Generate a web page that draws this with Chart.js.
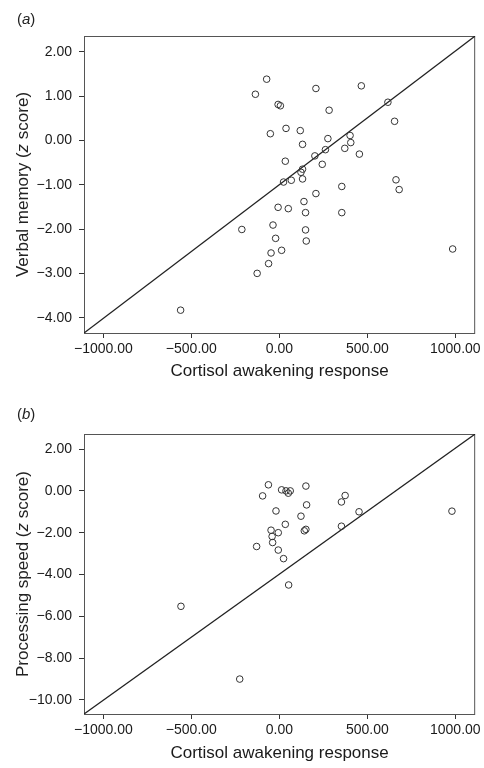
<!DOCTYPE html>
<html>
<head>
<meta charset="utf-8">
<script src="https://cdn.jsdelivr.net/npm/chart.js@4/dist/chart.umd.min.js"></script>
<style>
  html, body { margin: 0; padding: 0; background: #fff; }
  body { width: 484px; height: 768px; position: relative; overflow: hidden; font-family: "Liberation Sans", Arial, sans-serif; }
  .panel { position: absolute; left: 0; width: 484px; height: 384px; }
  .tag { position: absolute; left: 17px; font-size: 15px; color: #222; }
</style>
</head>
<body>
<div class="panel" style="top:0"><canvas id="chartA"></canvas></div>
<div class="panel" style="top:384px"><canvas id="chartB"></canvas></div>
<div class="tag" style="top:10px">(<i>a</i>)</div>
<div class="tag" style="top:405px">(<i>b</i>)</div>

<script>
// === DATA ===
const xTicks = [-1000, -500, 0, 500, 1000];
const xMin = -1110, xMax = 1113;

// (a) verbal memory vs CAR
const carA = [-136, -72, 208, 466, -7, 6, 283, 617, 655, -51, 38, 119, 132, 276, 402, 406, 372, 262, 202, 455,
              34, 244, 132, 123, 132, 24, 68, 663, 681, 355, 208, 355, 140, -7, 51, 149, -36, -213, 149, -21,
              153, 13, -47, 985, -61, -126, -561];
const memA = [1.04, 1.38, 1.17, 1.23, 0.81, 0.78, 0.68, 0.86, 0.43, 0.15, 0.27, 0.22, -0.09, 0.04, 0.11, -0.05, -0.18, -0.21, -0.35, -0.31,
              -0.47, -0.54, -0.65, -0.72, -0.87, -0.94, -0.90, -0.89, -1.11, -1.04, -1.20, -1.63, -1.38, -1.51, -1.54, -1.63, -1.91, -2.01, -2.02, -2.21,
              -2.27, -2.48, -2.54, -2.45, -2.78, -3.00, -3.83];
const yTicksA = [2, 1, 0, -1, -2, -3, -4];
const yMinA = -4.345, yMaxA = 2.354;

// (b) processing speed vs CAR
const carB = [-62, -95, 13, 38, 51, 62, 151, 155, -19, 123, 34, 353, 374, 453, 981, 353, -47, -6, 142, 151,
              -41, -38, -129, -6, 24, 53, -559, -225];
const speedB = [0.29, -0.24, 0.05, 0.0, -0.11, 0.0, 0.23, -0.67, -0.96, -1.21, -1.60, -0.53, -0.22, -1.00, -0.97, -1.69, -1.88, -2.00, -1.91, -1.84,
                -2.18, -2.47, -2.66, -2.83, -3.24, -4.50, -5.52, -9.00];
const yTicksB = [2, 0, -2, -4, -6, -8, -10];
const yMinB = -10.67, yMaxB = 2.72;

// === HELPERS ===
const fmt = v => (v < 0 ? '\u2212' : '') + Math.abs(v).toFixed(2);
const FONT = '"Liberation Sans", Arial, sans-serif';

// frame round the plot area
const framePlugin = {
  id: 'frame',
  beforeDatasetsDraw(chart) {
    const a = chart.chartArea, c = chart.ctx;
    c.save();
    c.strokeStyle = '#555';
    c.lineWidth = 1;
    c.strokeRect(a.left + 0.5, a.top + 0.5, a.right - a.left - 1, a.bottom - a.top);
    c.restore();
  }
};

// rotated y title with an italic z
function yTitlePlugin(pre, post) {
  return {
    id: 'ytitle',
    afterDraw(chart) {
      const a = chart.chartArea, c = chart.ctx;
      const parts = [[pre, 'normal 17px ' + FONT], ['z', 'italic 17px ' + FONT], [post, 'normal 17px ' + FONT]];
      let w = 0;
      parts.forEach(p => { c.font = p[1]; w += c.measureText(p[0]).width; });
      c.save();
      c.translate(23, (a.top + a.bottom) / 2);
      c.rotate(-Math.PI / 2);
      c.fillStyle = '#222';
      c.textBaseline = 'middle';
      let x = -w / 2;
      parts.forEach(p => { c.font = p[1]; c.fillText(p[0], x, 0); x += c.measureText(p[0]).width; });
      c.restore();
    }
  };
}

function makeChart(id, xs, ys, yTicks, yMin, yMax, pre, padTop, xAxisH, titlePad) {
  const pts = xs.map((x, i) => ({ x: x, y: ys[i] }));
  return new Chart(document.getElementById(id), {
    type: 'scatter',
    data: {
      datasets: [
        {
          data: pts,
          pointStyle: 'circle',
          pointRadius: 3.3,
          pointBorderWidth: 1,
          borderColor: '#333',
          backgroundColor: 'rgba(0,0,0,0)'
        },
        {
          type: 'line',
          data: [{ x: xMin, y: yMin }, { x: xMax, y: yMax }],
          borderColor: '#222',
          borderWidth: 1.3,
          pointRadius: 0,
          fill: false
        }
      ]
    },
    options: {
      responsive: true,
      maintainAspectRatio: false,
      animation: false,
      events: [],
      layout: { padding: { top: padTop, right: 8, left: 0, bottom: 0 } },
      plugins: { legend: { display: false }, tooltip: { enabled: false } },
      scales: {
        x: {
          type: 'linear',
          min: xMin, max: xMax,
          afterBuildTicks: s => { s.ticks = xTicks.map(v => ({ value: v })); },
          afterFit: s => { s.height = xAxisH; },
          grid: { display: true, drawOnChartArea: false, drawTicks: true, tickLength: 5, tickColor: '#333' },
          border: { display: false },
          ticks: { callback: fmt, padding: 3, color: '#1a1a1a', font: { family: FONT, size: 14 }, maxRotation: 0 },
          title: { display: true, text: 'Cortisol awakening response', color: '#1a1a1a', font: { family: FONT, size: 17 }, padding: { top: 0, bottom: titlePad } }
        },
        y: {
          type: 'linear',
          min: yMin, max: yMax,
          afterBuildTicks: s => { s.ticks = yTicks.map(v => ({ value: v })); },
          afterFit: s => { s.width = 84; },
          grid: { display: true, drawOnChartArea: false, drawTicks: true, tickLength: 5, tickColor: '#333' },
          border: { display: false },
          ticks: { callback: fmt, padding: 7, color: '#1a1a1a', font: { family: FONT, size: 14 } }
        }
      }
    },
    plugins: [framePlugin, yTitlePlugin(pre, ' score)')]
  });
}

window.onload = () => {
  makeChart('chartA', carA, memA, yTicksA, yMinA, yMaxA, 'Verbal memory (', 36, 51, 2);
  makeChart('chartB', carB, speedB, yTicksB, yMinB, yMaxB, 'Processing speed (', 50, 54, 4);
};
</script>
</body>
</html>
